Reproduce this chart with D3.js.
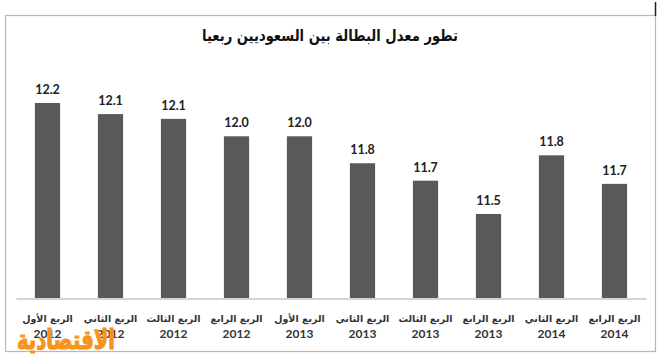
<!DOCTYPE html>
<html><head><meta charset="utf-8">
<script src="https://cdn.jsdelivr.net/npm/d3@7"></script>
<style>
html,body{margin:0;padding:0;background:#fff;}
svg{display:block;}
</style></head>
<body>
<script>
const title = "تطور معدل البطالة بين السعوديين ربعيا";
const quarters = ["الربع الأول","الربع الثاني","الربع الثالث","الربع الرابع","الربع الأول","الربع الثاني","الربع الثالث","الربع الرابع","الربع الثاني","الربع الرابع"];
const years = ["2012","2012","2012","2012","2013","2013","2013","2013","2014","2014"];
const values = [12.2, 12.13, 12.1, 11.99, 11.99, 11.82, 11.71, 11.5, 11.87, 11.69];
const valueLabels = ["12.2","12.1","12.1","12.0","12.0","11.8","11.7","11.5","11.8","11.7"];
const watermark = "الاقتصادية";

const W = 660, H = 361;
const svg = d3.select("body").append("svg").attr("width", W).attr("height", H);

// frame
svg.append("rect").attr("x", 5.5).attr("y", 15.5).attr("width", 650).attr("height", 336)
  .attr("fill", "#fff").attr("stroke", "#b8b8b8").attr("stroke-width", 1.2);
svg.append("line").attr("x1", 655.5).attr("x2", 655.5).attr("y1", 2).attr("y2", 16)
  .attr("stroke", "#222").attr("stroke-width", 1.5);

// title
svg.append("text").attr("x", 330).attr("y", 41).attr("text-anchor", "middle")
  .attr("font-family", "DejaVu Sans").attr("font-weight", "bold").attr("font-size", 16)
  .attr("fill", "#111").attr("direction", "rtl")
  .attr("textLength", 256).attr("lengthAdjust", "spacingAndGlyphs").text(title);

const idx = values.map((d, i) => i);
const x = d3.scaleBand().domain(idx).range([16, 646]).paddingInner(0.6).paddingOuter(0.3);
const y = d3.scaleLinear().domain([10.97, 12.2]).range([298, 103]);

// bars
svg.append("g").selectAll("rect").data(idx).join("rect")
  .attr("x", i => x(i)).attr("width", x.bandwidth())
  .attr("y", i => y(values[i])).attr("height", i => y.range()[0] - y(values[i]))
  .attr("fill", "#58595b");

// axis
const axis = d3.axisBottom(x).tickSize(0).tickFormat("");
const gx = svg.append("g").attr("transform", "translate(0,298.5)").call(axis);
gx.select(".domain").attr("stroke", "#a9a9a9").attr("stroke-width", 1.2);

// value labels
svg.append("g").selectAll("text").data(idx).join("text")
  .attr("x", i => x(i) + x.bandwidth() / 2).attr("y", i => y(values[i]) - 9)
  .attr("text-anchor", "middle").attr("font-family", "Lato").attr("font-weight", "bold")
  .attr("font-size", 12.5).attr("fill", "#222").text(i => valueLabels[i]);

// category labels
const cat = svg.append("g").selectAll("g").data(idx).join("g")
  .attr("transform", i => `translate(${x(i) + x.bandwidth() / 2},0)`);
cat.append("text").attr("y", 322).attr("text-anchor", "middle").attr("direction", "rtl")
  .attr("font-family", "DejaVu Sans").attr("font-weight", "bold").attr("font-size", 9.5)
  .attr("fill", "#333").text(i => quarters[i]);
cat.append("text").attr("y", 337.5).attr("text-anchor", "middle")
  .attr("font-family", "Lato").attr("font-weight", "bold").attr("font-size", 12)
  .attr("fill", "#333").text(i => years[i]);

// watermark
svg.append("text").attr("x", 66).attr("y", 349).attr("text-anchor", "middle").attr("direction", "rtl")
  .attr("font-family", "DejaVu Sans").attr("font-weight", "bold").attr("font-size", 27)
  .attr("fill", "#f7941d").attr("stroke", "#f7941d").attr("stroke-width", 1.2)
  .attr("textLength", 98).attr("lengthAdjust", "spacingAndGlyphs")
  .text(watermark);
</script>
</body></html>
